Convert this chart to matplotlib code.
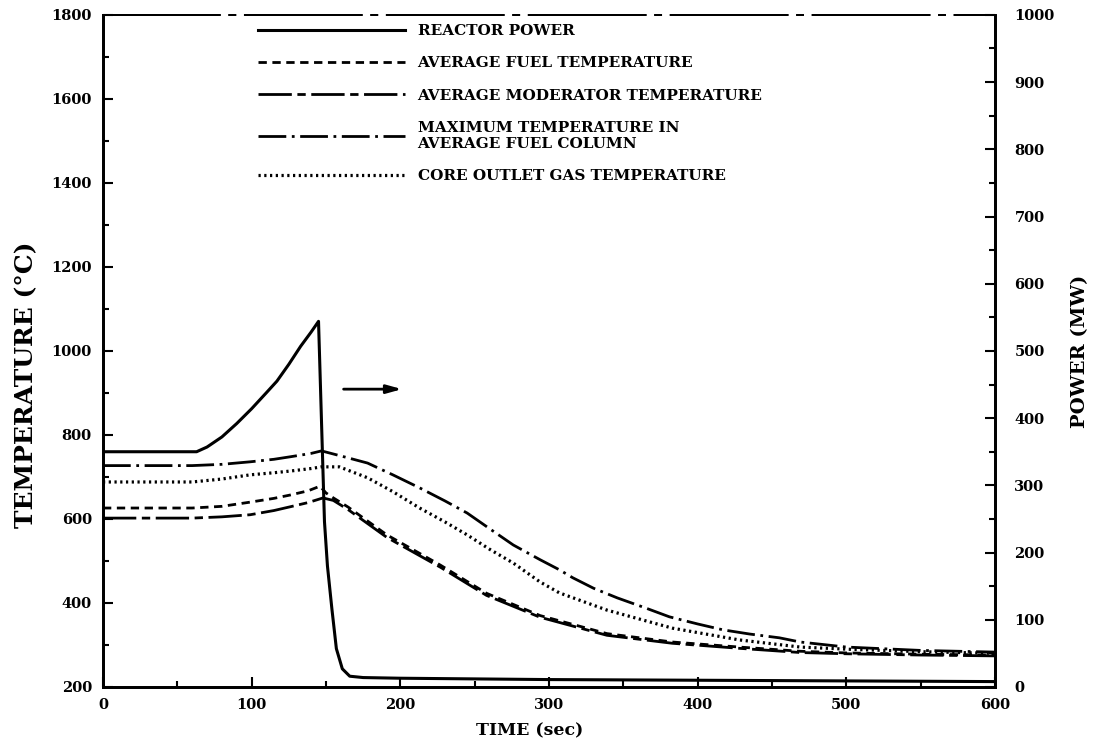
import numpy as np
import matplotlib
matplotlib.use("Agg")
import matplotlib.pyplot as plt
from matplotlib.ticker import MultipleLocator

# reactor power (MW, right axis)
t_pow = [0, 63, 70, 80, 90, 100, 110, 117, 125, 133, 140, 145, 147, 149, 151, 154, 157, 161, 166, 175, 200, 300, 400, 500, 600]
pow_mw = [350, 350, 357, 372, 392, 414, 438, 455, 480, 507, 528, 544, 395, 246, 180, 116, 57, 27, 16, 14, 13, 11, 10, 9, 8]

# temperatures (deg C, left axis)
t_fuel = [0, 60, 80, 99, 115, 126, 138, 146, 150, 155, 165, 191, 227, 258, 294, 339, 383, 428, 469, 500, 550, 600]
T_fuel = [626, 626, 630, 640, 649, 657, 667, 678, 662, 650, 628, 562, 490, 423, 370, 327, 307, 295, 285, 281, 278, 276]

t_mod = [0, 60, 80, 99, 115, 126, 138, 148, 155, 165, 191, 227, 258, 294, 339, 383, 428, 469, 500, 550, 600]
T_mod = [602, 602, 605, 610, 620, 629, 639, 650, 644, 622, 556, 485, 418, 366, 323, 304, 292, 282, 279, 276, 274]

t_max = [0, 60, 80, 99, 115, 126, 140, 147, 160, 178, 195, 213, 230, 245, 260, 276, 294, 307, 316, 330, 346, 365, 381, 400, 417, 435, 455, 469, 500, 550, 600]
T_max = [727, 727, 730, 736, 742, 748, 756, 762, 750, 733, 705, 674, 643, 614, 577, 538, 503, 479, 460, 435, 412, 388, 367, 350, 336, 326, 317, 307, 295, 287, 283]

t_gas = [0, 60, 80, 99, 115, 126, 140, 147, 159, 178, 195, 213, 230, 245, 260, 276, 294, 307, 339, 383, 428, 469, 500, 550, 600]
T_gas = [688, 688, 695, 705, 710, 714, 720, 724, 724, 698, 665, 626, 593, 562, 528, 495, 450, 424, 383, 340, 312, 295, 290, 284, 280]

labels = ["REACTOR POWER", "AVERAGE FUEL TEMPERATURE", "AVERAGE MODERATOR TEMPERATURE",
          "MAXIMUM TEMPERATURE IN\nAVERAGE FUEL COLUMN", "CORE OUTLET GAS TEMPERATURE"]

serif = "DejaVu Serif"
plt.rcParams["font.family"] = serif
plt.rcParams["font.weight"] = "bold"

fig = plt.figure(figsize=(10.93, 7.48), dpi=100)
ax = fig.add_axes([0.0942, 0.0816, 0.8161, 0.8985])
ax2 = ax.twinx()

lw = 2.0
h_fuel, = ax.plot(t_fuel, T_fuel, color="k", lw=lw, ls=(0, (3, 2)))
h_mod, = ax.plot(t_mod, T_mod, color="k", lw=lw, ls=(0, (12, 2, 3, 2)))
h_max, = ax.plot(t_max, T_max, color="k", lw=lw, ls=(0, (10, 2, 1, 2)))
h_gas, = ax.plot(t_gas, T_gas, color="k", lw=2.3, ls=(0, (0.7, 1.1)))
h_pow, = ax2.plot(t_pow, pow_mw, color="k", lw=2.2)

ax.set_xlim(0, 600)
ax.set_ylim(200, 1800)
ax2.set_ylim(0, 1000)

ax.xaxis.set_major_locator(MultipleLocator(100))
ax.xaxis.set_minor_locator(MultipleLocator(50))
ax.yaxis.set_major_locator(MultipleLocator(200))
ax.yaxis.set_minor_locator(MultipleLocator(100))
ax2.yaxis.set_major_locator(MultipleLocator(100))
ax2.yaxis.set_minor_locator(MultipleLocator(50))

for a in (ax, ax2):
    a.tick_params(which="both", direction="in", width=1.5, top=False, labelsize=10.5)
    a.tick_params(which="major", length=7)
    a.tick_params(which="minor", length=4)
    for s in ("left", "right", "bottom"):
        a.spines[s].set_linewidth(2)
    a.spines["top"].set_linewidth(1.4)
    a.spines["top"].set_linestyle((0, (60, 5, 3, 5)))
ax.tick_params(axis="x", pad=8)
ax.tick_params(axis="y", pad=8)
ax2.tick_params(axis="y", pad=14)

for lab in ax.get_xticklabels() + ax.get_yticklabels() + ax2.get_yticklabels():
    lab.set_fontweight("bold")

ax.set_xlabel("TIME (sec)", fontsize=12.5, fontweight="bold")
ax.xaxis.set_label_coords(0.478, -0.052)
ax.set_ylabel("TEMPERATURE (°C)", fontsize=18, fontweight="bold")
ax.yaxis.set_label_coords(-0.073, 0.449)
ax2.set_ylabel("POWER (MW)", fontsize=14, fontweight="bold", labelpad=12)

ax.annotate("", xy=(203, 909), xytext=(160, 909),
            arrowprops=dict(arrowstyle="-|>,head_length=0.9,head_width=0.25", color="k", lw=2))

ax2.legend([h_pow, h_fuel, h_mod, h_max, h_gas], labels,
           loc="upper left", bbox_to_anchor=(0.236, 0.968), bbox_transform=fig.transFigure,
           frameon=False, handlelength=9.6, handletextpad=0.85,
           labelspacing=1.2, borderpad=0, borderaxespad=0,
           prop=dict(family=serif, weight="bold", size=11))

fig.savefig("out.png", dpi=100)
